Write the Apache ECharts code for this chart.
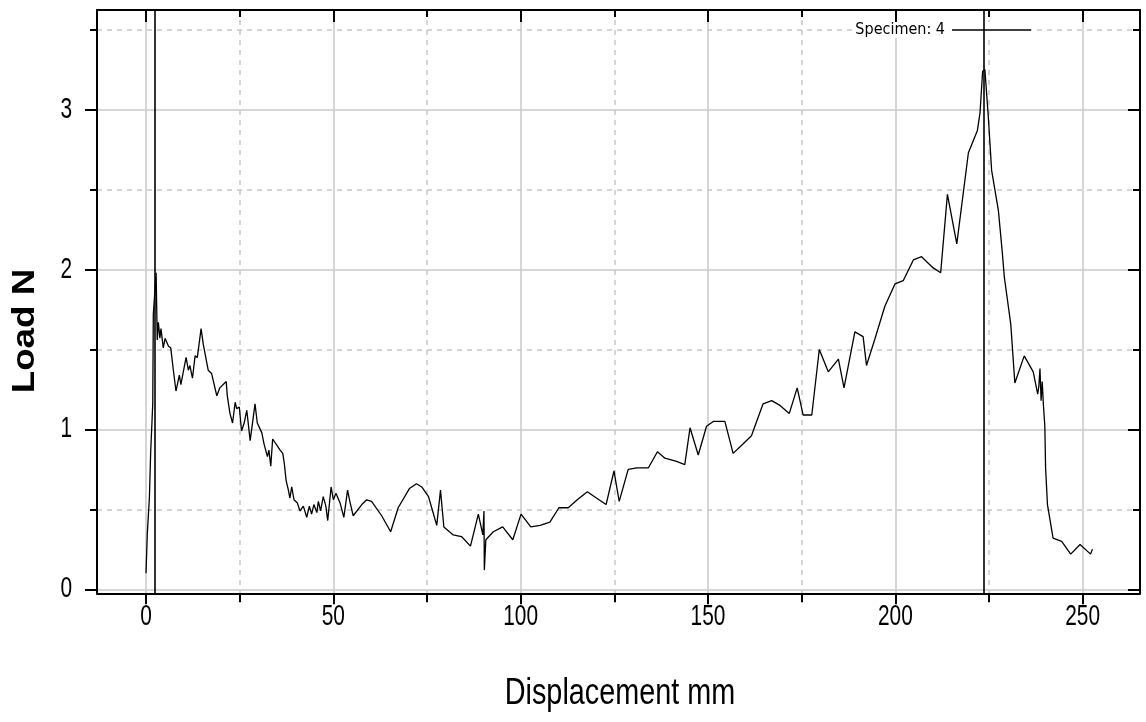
<!DOCTYPE html>
<html><head><meta charset="utf-8">
<script src="https://cdn.jsdelivr.net/npm/echarts@6/dist/echarts.min.js"></script>
<style>html,body{margin:0;padding:0;background:#fff}#c{width:1146px;height:722px}</style>
</head><body><div id="c"></div>
<script>
// ---- data ----
const displacement = [0,0.35,0.9,1.25,1.8,1.95,2.7,3.0,3.3,3.7,4.0,4.6,5.1,6.0,6.6,7.3,8.0,8.9,9.3,10.7,11.3,11.7,12.4,13.1,13.7,14.7,15.3,16.6,17.5,18.9,19.7,21.4,21.7,22.4,23.1,23.8,24.2,24.9,25.5,26.2,26.9,27.8,29.1,29.7,30.9,31.5,32.4,32.8,33.3,33.8,35.8,36.5,36.9,37.4,38.0,38.4,38.9,39.5,40.4,41.1,42.0,42.9,43.6,44.2,44.8,45.6,46.0,46.6,47.3,48.0,48.5,49.4,50.0,50.7,51.8,52.8,53.8,54.4,55.3,57.6,58.9,60.2,62.9,65.3,67.3,70.3,72.2,73.6,75.4,76.5,77.6,78.6,79.5,82.0,84.2,86.6,88.7,89.9,90.2,90.3,90.7,92.7,95.2,97.9,100.1,102.7,105.2,107.8,110.2,112.7,115.1,117.8,120.3,122.8,124.9,126.3,128.7,131.0,134.1,136.5,138.5,141.6,143.8,145.2,147.4,149.6,151.4,154.5,156.7,159.4,161.6,164.7,167.0,169.2,171.7,173.8,175.4,177.7,179.7,182.1,184.8,186.3,189.2,191.4,192.3,194.6,197.2,199.9,202.1,204.8,207.0,210.1,212.1,213.9,216.4,219.5,221.9,222.6,223.3,223.9,224.8,225.7,227.5,228.5,229.1,230.8,231.9,234.4,236.8,238.0,238.3,238.6,238.9,239.2,239.5,239.9,240.1,240.6,242.1,244.4,246.8,249.3,252.1,252.6];
const load = [0.10,0.35,0.57,0.86,1.16,1.72,1.98,1.56,1.67,1.57,1.63,1.51,1.57,1.52,1.51,1.37,1.24,1.34,1.28,1.45,1.37,1.40,1.32,1.46,1.45,1.63,1.53,1.37,1.35,1.21,1.26,1.30,1.21,1.10,1.04,1.17,1.13,1.14,0.99,1.04,1.12,0.93,1.16,1.04,0.98,0.91,0.83,0.87,0.77,0.94,0.87,0.85,0.79,0.68,0.62,0.57,0.64,0.56,0.54,0.49,0.52,0.45,0.52,0.47,0.53,0.48,0.55,0.49,0.58,0.52,0.43,0.64,0.56,0.60,0.54,0.45,0.62,0.55,0.46,0.53,0.56,0.55,0.46,0.36,0.51,0.63,0.66,0.64,0.58,0.49,0.40,0.62,0.39,0.34,0.33,0.27,0.47,0.34,0.49,0.12,0.31,0.36,0.39,0.31,0.47,0.39,0.40,0.42,0.51,0.51,0.56,0.61,0.57,0.53,0.74,0.55,0.75,0.76,0.76,0.86,0.82,0.80,0.78,1.01,0.84,1.02,1.05,1.05,0.85,0.91,0.96,1.16,1.18,1.15,1.10,1.26,1.09,1.09,1.50,1.36,1.44,1.26,1.61,1.58,1.40,1.57,1.77,1.91,1.93,2.06,2.08,2.01,1.98,2.47,2.16,2.73,2.87,2.98,3.24,3.25,2.96,2.62,2.37,2.12,1.95,1.66,1.29,1.46,1.36,1.22,1.27,1.38,1.18,1.30,1.16,1.02,0.76,0.53,0.32,0.30,0.22,0.28,0.22,0.25];
const markerX = [2.4, 223.5];
const xMajorTicks = [0, 50, 100, 150, 200, 250];
const xMinorTicks = [25, 75, 125, 175, 225];
const yMajorTicks = [0, 1, 2, 3];
const yMinorTicks = [0.5, 1.5, 2.5, 3.5];
const seriesName = 'Specimen: 4';
const xTitle = 'Displacement mm';
const yTitle = 'Load N';
const X_MIN = -13.08, X_MAX = 265.3, Y_MIN = -0.025, Y_MAX = 3.623;

// ---- chart ----
const SANS = '"Liberation Sans", Arial, sans-serif';
const COND = '"DejaVu Sans Condensed", "Liberation Sans", sans-serif';
const TICK_FONT = '29px ' + SANS;
const TICK_SCALE = 0.72;
const chart = echarts.init(document.getElementById('c'), null, {renderer: 'canvas'});
const pts = displacement.map((d, i) => [d, load[i]]);
const black = '#000';
const gridSolid = {show: true, lineStyle: {color: '#c8c8c8', width: 1.5, type: 'solid'}};
const gridDash = {show: true, lineStyle: {color: '#c8c8c8', width: 1.5, type: [5, 5]}};

function axis(kind, pos, ticks, len, inside, showLine, split) {
  return {
    type: 'value', position: pos,
    min: kind === 'x' ? X_MIN : Y_MIN, max: kind === 'x' ? X_MAX : Y_MAX,
    axisLine: {show: showLine, onZero: false, lineStyle: {color: black, width: 2}},
    axisTick: {show: true, customValues: ticks, length: len, inside: inside, lineStyle: {color: black, width: 2}},
    axisLabel: {show: false},
    splitLine: split || {show: false},
    splitArea: {show: false}
  };
}

chart.setOption({
  animation: false,
  backgroundColor: '#fff',
  grid: {left: 97, right: 6, top: 10, bottom: 128.7, containLabel: false},
  xAxis: [
    axis('x', 'bottom', xMajorTicks, 11, false, true, gridSolid),
    axis('x', 'bottom', xMinorTicks, 9, false, false, gridDash),
    axis('x', 'top', xMajorTicks, 12, true, true, null),
    axis('x', 'top', xMinorTicks, 7, true, false, null)
  ],
  yAxis: [
    axis('y', 'left', yMajorTicks, 12, false, true, gridSolid),
    axis('y', 'left', yMinorTicks, 7, false, false, gridDash),
    axis('y', 'right', yMajorTicks, 12, true, true, null),
    axis('y', 'right', yMinorTicks, 7, true, false, null)
  ],
  legend: {
    data: [seriesName], right: 115, top: 22, align: 'right',
    icon: 'rect', itemWidth: 79, itemHeight: 1.5, itemGap: 0,
    backgroundColor: '#fff', padding: [0, 0, 0, 2],
    textStyle: {color: black, fontFamily: COND, fontSize: 16, padding: [0, 2, 0, 0]}
  },
  series: [
    {
      name: seriesName, type: 'line', data: pts, xAxisIndex: 0, yAxisIndex: 0,
      showSymbol: false, symbol: 'none', smooth: false,
      lineStyle: {color: black, width: 1.3}, itemStyle: {color: black}, z: 3
    },
    {
      name: 'markers', type: 'line', data: [], xAxisIndex: 0, yAxisIndex: 0, z: 6,
      markLine: {
        silent: true, symbol: ['none', 'none'], label: {show: false},
        lineStyle: {color: black, width: 1.6, type: 'solid'},
        data: markerX.map(v => ({xAxis: v}))
      }
    }
  ]
});

// tick labels placed through the axes' own scales (narrow, tall lettering like the reference)
const leftPx = chart.convertToPixel({xAxisIndex: 0}, X_MIN);
const bottomPx = chart.convertToPixel({yAxisIndex: 0}, Y_MIN);
const g = [];
xMajorTicks.forEach(v => {
  g.push({type: 'text', x: chart.convertToPixel({xAxisIndex: 0}, v), y: bottomPx + 24, scaleX: TICK_SCALE, silent: true,
          style: {text: String(v), x: 0, y: 0, align: 'center', verticalAlign: 'middle', fill: black, font: TICK_FONT}});
});
yMajorTicks.forEach(v => {
  g.push({type: 'text', x: leftPx - 25, y: chart.convertToPixel({yAxisIndex: 0}, v), scaleX: TICK_SCALE, silent: true,
          style: {text: String(v), x: 0, y: 0, align: 'right', verticalAlign: 'middle', fill: black, font: TICK_FONT}});
});
g.push({type: 'text', x: 25, y: 331, rotation: Math.PI / 2, scaleX: 1.15, silent: true,
        style: {text: yTitle, x: 0, y: 0, align: 'center', verticalAlign: 'middle', fill: black,
                font: 'bold 32px ' + SANS}});
g.push({type: 'text', x: 620, y: 694, scaleX: 0.8, silent: true,
        style: {text: xTitle, x: 0, y: 0, align: 'center', verticalAlign: 'middle', fill: black,
                font: '36px ' + SANS}});
chart.setOption({graphic: g});
</script>
</body></html>
